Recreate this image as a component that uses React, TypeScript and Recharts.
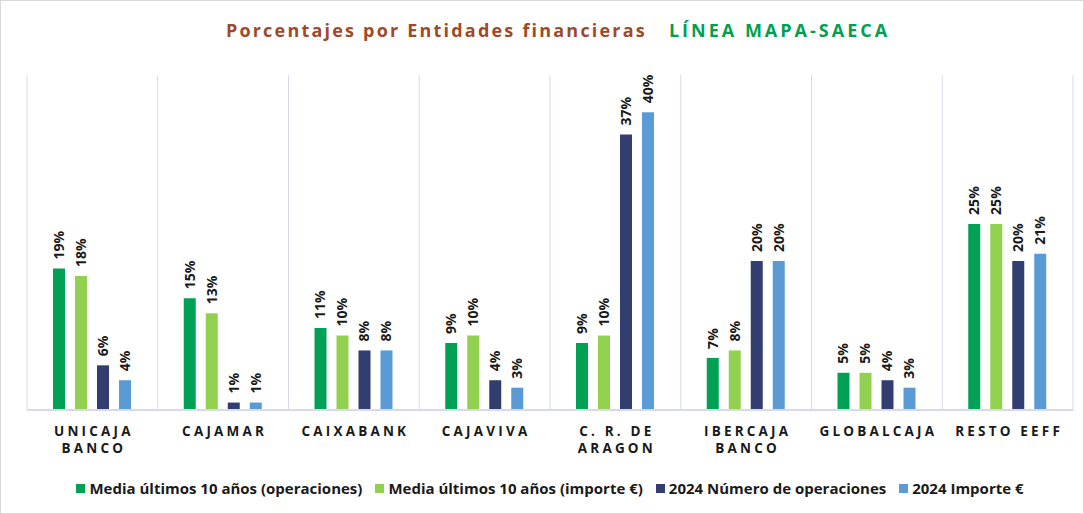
import React from "react"
import { BarChart, Bar, XAxis, YAxis, CartesianGrid, Legend, LabelList } from "recharts"

const entidades = [
  "UNICAJA|BANCO",
  "CAJAMAR",
  "CAIXABANK",
  "CAJAVIVA",
  "C. R. DE|ARAGON",
  "IBERCAJA|BANCO",
  "GLOBALCAJA",
  "RESTO EEFF",
]
const mediaOperaciones = [19, 15, 11, 9, 9, 7, 5, 25]
const mediaImporte = [18, 13, 10, 10, 10, 8, 5, 25]
const operaciones2024 = [6, 1, 8, 4, 37, 20, 4, 20]
const importe2024 = [4, 1, 8, 3, 40, 20, 3, 21]

const series = [
  { key: "mediaOp", name: "Media últimos 10 años  (operaciones)", color: "#00A055" },
  { key: "mediaImp", name: "Media últimos 10 años (importe €)", color: "#92D050" },
  { key: "op2024", name: "2024 Número de operaciones", color: "#323E70" },
  { key: "imp2024", name: "2024 Importe €", color: "#5B9BD5" },
]

const data = entidades.map((name, i) => ({
  name,
  mediaOp: mediaOperaciones[i],
  mediaImp: mediaImporte[i],
  op2024: operaciones2024[i],
  imp2024: importe2024[i],
}))

const FONT = "'Open Sans', 'DejaVu Sans', sans-serif"

function CategoryTick({ x, y, payload }: any) {
  const lines = String(payload.value).split("|")
  return (
    <text x={x} y={y} textAnchor="middle" fill="#1a1a1a" fontSize={13.5} fontWeight={700}
      fontFamily={FONT} letterSpacing={3.2}>
      {lines.map((l, i) => (
        <tspan key={i} x={x + 1.5} dy={i === 0 ? 18 : 17}>{l}</tspan>
      ))}
    </text>
  )
}

function ValueLabel({ x, y, width, value }: any) {
  const cx = x + width / 2 + 5
  const ty = y - 9
  return (
    <text x={cx} y={ty} transform={`rotate(-90 ${cx} ${ty})`} textAnchor="start"
      fontSize={14} fontWeight={700} fill="#1a1a1a" fontFamily={FONT}>
      {value}%
    </text>
  )
}

function LegendBox() {
  return (
    <div style={{ display: "flex", justifyContent: "center", gap: 13, paddingTop: 3, fontFamily: FONT, fontSize: 15, fontWeight: 700, color: "#1a1a1a" }}>
      {series.map((s) => (
        <div key={s.key} style={{ display: "flex", alignItems: "center", gap: 4 }}>
          <span style={{ width: 9, height: 9, background: s.color, display: "inline-block" }} />
          <span>{s.name}</span>
        </div>
      ))}
    </div>
  )
}

export default function App() {
  return (
    <div style={{ position: "absolute", left: 0, top: 0, width: 1084, height: 514, background: "#fff", boxSizing: "border-box", border: "1px solid #d9d9d9" }}>
      <div style={{ position: "absolute", top: 17, left: 15, width: 1084, textAlign: "center", fontFamily: FONT, fontWeight: 700, fontSize: 18 }}>
        <span style={{ color: "#9E4A2A", letterSpacing: 2.2 }}>Porcentajes por Entidades financieras</span>
        <span style={{ color: "#00A050", letterSpacing: 3, marginLeft: 22 }}>LÍNEA MAPA-SAECA</span>
      </div>
      <BarChart
        width={1082}
        height={512}
        data={data}
        margin={{ top: 74, right: 10, bottom: 0, left: 26 }}
        barSize={12}
        barGap={10}
      >
        <CartesianGrid
          horizontal={false}
          stroke="#d9d9ec"
          verticalCoordinatesGenerator={({ offset }: any) =>
            Array.from({ length: entidades.length + 1 }, (_, i) => offset.left + (i * offset.width) / entidades.length)
          }
        />
        <XAxis dataKey="name" interval={0} tickLine={false} axisLine={{ stroke: "#d9d9ec", strokeWidth: 2 }}
          tick={<CategoryTick />} height={65} />
        <YAxis hide domain={[0, 45]} />
        <Legend verticalAlign="bottom" height={38} content={<LegendBox />} />
        {series.map((s) => (
          <Bar key={s.key} dataKey={s.key} name={s.name} fill={s.color} isAnimationActive={false}>
            <LabelList dataKey={s.key} content={<ValueLabel />} />
          </Bar>
        ))}
      </BarChart>
    </div>
  )
}
